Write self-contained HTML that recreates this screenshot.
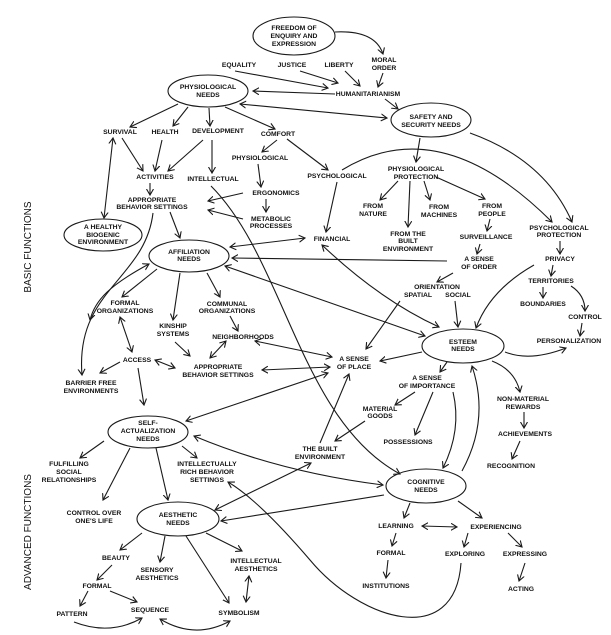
<!DOCTYPE html>
<html><head><meta charset="utf-8"><style>
html,body{margin:0;padding:0;background:#fff;}
svg{display:block;}
text{font-family:"Liberation Sans",sans-serif;font-size:6.8px;font-weight:bold;fill:#111;text-anchor:middle;}
.s{font-size:10px;font-weight:normal;}
path,line,ellipse{stroke:#1a1a1a;stroke-width:1.1;fill:none;}
</style></head><body>
<svg width="611" height="635" viewBox="0 0 611 635" xmlns="http://www.w3.org/2000/svg">
<defs>
<marker id="a" markerWidth="8" markerHeight="8" refX="6" refY="4" orient="auto-start-reverse" markerUnits="userSpaceOnUse"><path d="M0,0.5 L6,4 L0,7.5" style="stroke:#1a1a1a;stroke-width:1.1;fill:none"/></marker>
</defs>
<text class="s" transform="translate(31,247) rotate(-90)">BASIC FUNCTIONS</text>
<text class="s" transform="translate(31,532) rotate(-90)">ADVANCED FUNCTIONS</text>

<!-- ellipses -->
<ellipse cx="294" cy="36" rx="41" ry="19"/>
<ellipse cx="208" cy="91" rx="40" ry="16"/>
<ellipse cx="431" cy="120" rx="40" ry="17"/>
<ellipse cx="103" cy="235" rx="39" ry="16"/>
<ellipse cx="189" cy="256" rx="40" ry="16"/>
<ellipse cx="463" cy="346" rx="41" ry="17"/>
<ellipse cx="148" cy="432" rx="40" ry="16"/>
<ellipse cx="426" cy="486" rx="40" ry="17"/>
<ellipse cx="178" cy="519" rx="41" ry="17"/>

<!-- labels -->
<text x="294" y="30">FREEDOM OF</text><text x="294" y="38">ENQUIRY AND</text><text x="294" y="46">EXPRESSION</text>
<text x="384" y="62">MORAL</text><text x="384" y="70">ORDER</text>
<text x="239" y="67">EQUALITY</text><text x="292" y="67">JUSTICE</text><text x="339" y="67">LIBERTY</text>
<text x="208" y="89">PHYSIOLOGICAL</text><text x="208" y="97">NEEDS</text>
<text x="368" y="96">HUMANITARIANISM</text>
<text x="431" y="119">SAFETY AND</text><text x="431" y="127">SECURITY NEEDS</text>
<text x="120" y="134">SURVIVAL</text><text x="165" y="134">HEALTH</text><text x="218" y="133">DEVELOPMENT</text><text x="278" y="136">COMFORT</text>
<text x="260" y="160">PHYSIOLOGICAL</text>
<text x="155" y="179">ACTIVITIES</text><text x="213" y="181">INTELLECTUAL</text><text x="337" y="178">PSYCHOLOGICAL</text>
<text x="416" y="171">PHYSIOLOGICAL</text><text x="416" y="179">PROTECTION</text>
<text x="276" y="195">ERGONOMICS</text>
<text x="152" y="202">APPROPRIATE</text><text x="152" y="209">BEHAVIOR SETTINGS</text>
<text x="373" y="208">FROM</text><text x="373" y="216">NATURE</text>
<text x="439" y="209">FROM</text><text x="439" y="217">MACHINES</text>
<text x="492" y="208">FROM</text><text x="492" y="216">PEOPLE</text>
<text x="271" y="221">METABOLIC</text><text x="271" y="228">PROCESSES</text>
<text x="103" y="229">A HEALTHY</text><text x="103" y="237">BIOGENIC</text><text x="103" y="244">ENVIRONMENT</text>
<text x="408" y="236">FROM THE</text><text x="408" y="243">BUILT</text><text x="408" y="251">ENVIRONMENT</text>
<text x="486" y="239">SURVEILLANCE</text>
<text x="559" y="230">PSYCHOLOGICAL</text><text x="559" y="237">PROTECTION</text>
<text x="332" y="241">FINANCIAL</text>
<text x="189" y="254">AFFILIATION</text><text x="189" y="261">NEEDS</text>
<text x="479" y="261">A SENSE</text><text x="479" y="269">OF ORDER</text>
<text x="560" y="261">PRIVACY</text>
<text x="551" y="283">TERRITORIES</text>
<text x="437" y="289">ORIENTATION</text><text x="418" y="297">SPATIAL</text><text x="458" y="297">SOCIAL</text>
<text x="543" y="306">BOUNDARIES</text>
<text x="125" y="305">FORMAL</text><text x="125" y="313">ORGANIZATIONS</text>
<text x="227" y="306">COMMUNAL</text><text x="227" y="313">ORGANIZATIONS</text>
<text x="585" y="319">CONTROL</text>
<text x="173" y="328">KINSHIP</text><text x="173" y="336">SYSTEMS</text>
<text x="243" y="339">NEIGHBORHOODS</text>
<text x="569" y="343">PERSONALIZATION</text>
<text x="463" y="344">ESTEEM</text><text x="463" y="351">NEEDS</text>
<text x="137" y="362">ACCESS</text>
<text x="218" y="369">APPROPRIATE</text><text x="218" y="377">BEHAVIOR SETTINGS</text>
<text x="354" y="361">A SENSE</text><text x="354" y="369">OF PLACE</text>
<text x="91" y="385">BARRIER FREE</text><text x="91" y="393">ENVIRONMENTS</text>
<text x="427" y="380">A SENSE</text><text x="427" y="388">OF IMPORTANCE</text>
<text x="523" y="401">NON-MATERIAL</text><text x="523" y="409">REWARDS</text>
<text x="380" y="411">MATERIAL</text><text x="380" y="418">GOODS</text>
<text x="148" y="425">SELF-</text><text x="148" y="433">ACTUALIZATION</text><text x="148" y="441">NEEDS</text>
<text x="525" y="436">ACHIEVEMENTS</text>
<text x="408" y="444">POSSESSIONS</text>
<text x="320" y="451">THE BUILT</text><text x="320" y="459">ENVIRONMENT</text>
<text x="69" y="466">FULFILLING</text><text x="69" y="474">SOCIAL</text><text x="69" y="482">RELATIONSHIPS</text>
<text x="207" y="466">INTELLECTUALLY</text><text x="207" y="474">RICH BEHAVIOR</text><text x="207" y="482">SETTINGS</text>
<text x="511" y="468">RECOGNITION</text>
<text x="426" y="484">COGNITIVE</text><text x="426" y="492">NEEDS</text>
<text x="94" y="515">CONTROL OVER</text><text x="94" y="523">ONE'S LIFE</text>
<text x="178" y="517">AESTHETIC</text><text x="178" y="525">NEEDS</text>
<text x="396" y="528">LEARNING</text><text x="496" y="529">EXPERIENCING</text>
<text x="391" y="555">FORMAL</text><text x="465" y="556">EXPLORING</text><text x="525" y="556">EXPRESSING</text>
<text x="116" y="560">BEAUTY</text>
<text x="157" y="572">SENSORY</text><text x="157" y="580">AESTHETICS</text>
<text x="256" y="563">INTELLECTUAL</text><text x="256" y="571">AESTHETICS</text>
<text x="386" y="588">INSTITUTIONS</text><text x="521" y="591">ACTING</text>
<text x="97" y="588">FORMAL</text>
<text x="72" y="616">PATTERN</text><text x="150" y="612">SEQUENCE</text><text x="239" y="615">SYMBOLISM</text>

<!-- connectors -->
<g marker-end="url(#a)">
<path d="M335,32 Q375,30 383,54"/>
<path d="M383,73 L378,87"/>
<path d="M345,71 L360,86"/>
<path d="M300,71 L338,83"/>
<path d="M235,71 L328,88"/>
<path d="M335,94 L253,91"/>
<path d="M385,99 L398,109"/>
<path d="M178,104 L130,127"/>
<path d="M188,107 L173,126"/>
<path d="M209,108 L210,126"/>
<path d="M225,107 L275,129"/>
<path d="M122,138 L143,171"/>
<path d="M162,140 L155,171"/>
<path d="M203,140 L168,171"/>
<path d="M212,140 L212,173"/>
<path d="M277,140 L262,152"/>
<path d="M287,139 L328,170"/>
<path d="M258,164 L261,187"/>
<path d="M266,199 L266,212"/>
<path d="M243,193 L208,201"/>
<path d="M243,219 L208,210"/>
<path d="M150,183 L150,195"/>
<path d="M170,212 L180,238"/>
<path d="M337,182 L326,232"/>
<path d="M420,138 L416,162"/>
<path d="M398,181 L380,200"/>
<path d="M410,181 L408,227"/>
<path d="M424,181 L430,200"/>
<path d="M436,177 L485,199"/>
<path d="M490,219 L487,231"/>
<path d="M480,244 L477,254"/>
<path d="M342,170 Q440,110 552,222"/>
<path d="M470,133 Q545,160 572,222"/>
<path d="M560,241 L560,254"/>
<path d="M553,265 L551,276"/>
<path d="M543,287 L543,298"/>
<path d="M571,286 Q585,295 585,311"/>
<path d="M582,323 L580,336"/>
<path d="M447,261 L232,258"/>
<path d="M453,273 L437,282"/>
<path d="M534,265 Q490,290 476,328"/>
<path d="M455,301 L458,327"/>
<path d="M400,301 L366,349"/>
<path d="M157,269 L122,297"/>
<path d="M180,273 L173,320"/>
<path d="M207,273 L220,297"/>
<path d="M230,316 L238,331"/>
<path d="M175,342 L190,356"/>
<path d="M120,362 L100,373"/>
<path d="M138,368 L144,405"/>
<path d="M422,352 L380,361"/>
<path d="M153,213 C145,280 75,290 82,375"/>
<path d="M211,186 C285,260 300,420 400,474"/>
<path d="M447,362 L440,372"/>
<path d="M415,392 L395,405"/>
<path d="M433,392 L415,435"/>
<path d="M453,392 Q462,430 443,468"/>
<path d="M462,471 Q490,420 472,366"/>
<path d="M492,361 Q515,370 520,392"/>
<path d="M524,412 L524,428"/>
<path d="M520,441 L512,459"/>
<path d="M505,352 Q530,362 566,348"/>
<path d="M365,421 L335,441"/>
<path d="M320,443 L349,374"/>
<path d="M384,495 L221,521"/>
<path d="M104,441 L80,458"/>
<path d="M130,448 L103,500"/>
<path d="M156,448 L168,500"/>
<path d="M182,446 L197,458"/>
<path d="M461,563 C455,650 360,620 310,560 C280,525 250,495 228,482"/>
<path d="M410,503 L404,518"/>
<path d="M458,501 L482,518"/>
<path d="M396,533 L392,546"/>
<path d="M388,560 L386,578"/>
<path d="M468,533 L464,547"/>
<path d="M508,533 L522,547"/>
<path d="M525,563 L519,581"/>
<path d="M142,533 L120,550"/>
<path d="M165,536 L160,562"/>
<path d="M206,533 L242,551"/>
<path d="M186,536 L229,603"/>
<path d="M112,565 L97,580"/>
<path d="M88,591 L80,606"/>
<path d="M110,591 L137,602"/>
<path d="M74,622 Q110,636 142,618"/>
</g>
<g marker-start="url(#a)" marker-end="url(#a)">
<path d="M240,104 L387,118"/>
<path d="M113,138 L104,218"/>
<path d="M305,238 L230,247"/>
<path d="M225,266 L425,336"/>
<path d="M322,245 Q380,300 439,327"/>
<path d="M149,264 C110,285 95,300 90,320"/>
<path d="M120,317 L132,352"/>
<path d="M226,341 L210,358"/>
<path d="M155,360 L175,368"/>
<path d="M255,341 L332,357"/>
<path d="M262,370 L330,367"/>
<path d="M186,421 L328,373"/>
<path d="M311,463 L215,510"/>
<path d="M194,436 Q280,472 383,485"/>
<path d="M422,526 L457,527"/>
<path d="M249,576 L246,602"/>
<path d="M160,619 Q195,640 230,621"/>
</g>
</svg>
</body></html>
